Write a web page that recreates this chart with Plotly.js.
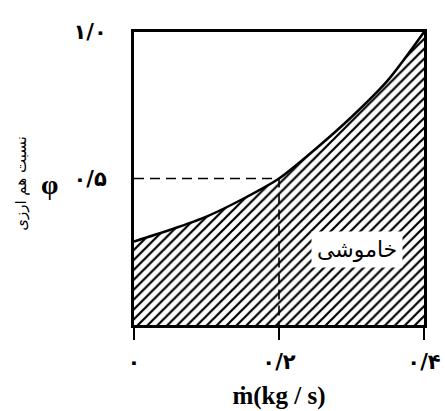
<!DOCTYPE html>
<html>
<head>
<meta charset="utf-8">
<script src="https://cdn.plot.ly/plotly-3.0.1.min.js"></script>
<style>html,body{margin:0;padding:0;background:#fff;}#chart{width:445px;height:411px;}</style>
</head>
<body>
<div id="chart"></div>
<script>
// Curve: equivalence ratio vs mass flow
const massFlow = [0, 0.05, 0.1, 0.15, 0.2, 0.25, 0.3, 0.35, 0.4];
const phiValues = [0.285, 0.325, 0.37, 0.43, 0.5, 0.60, 0.71, 0.835, 1.0];
// Marked point
const markX = 0.2;
const markY = 0.5;
// Tick labels
const xTickVals = [0, 0.2, 0.4];
const xTickText = ['۰', '۰/۲', '۰/۴'];
const yTickVals = [0.5, 1.0];
const yTickText = ['۰/۵', '۱/۰'];
// Region label
const regionLabel = 'خاموشی';
const regionX = 0.308;
const regionY = 0.256;
const yTitleSymbol = 'φ';
const yTitleText = 'نسبت هم ارزی';

const curve = {
  x: massFlow, y: phiValues, type: 'scatter', mode: 'lines',
  line: {color: '#000', width: 2.5, shape: 'spline', smoothing: 0.8},
  fill: 'tozeroy', fillcolor: 'rgba(255,255,255,1)',
  fillpattern: {shape: '/', size: 7, solidity: 0.32, fgcolor: '#000', bgcolor: '#fff'},
  hoverinfo: 'skip', showlegend: false
};
const dashed = {
  x: [0, markX, markX], y: [markY, markY, 0], type: 'scatter', mode: 'lines',
  line: {color: '#000', width: 1.6, dash: '10px,6px'},
  hoverinfo: 'skip', showlegend: false
};

const layout = {
  width: 445, height: 411,
  margin: {l: 134, r: 21, t: 32, b: 86},
  paper_bgcolor: '#fff', plot_bgcolor: '#fff',
  xaxis: {
    range: [0, 0.4], tickvals: xTickVals, ticktext: xTickText,
    ticks: 'outside', ticklen: 12, tickwidth: 2.5, tickcolor: '#000',
    showline: true, linewidth: 3, linecolor: '#000', mirror: true,
    showgrid: false, zeroline: false, ticklabelstandoff: 4,
    tickfont: {family: 'DejaVu Sans', size: 21, color: '#000', weight: 'bold'},
    title: {text: '<b>ṁ(kg / s)</b>', font: {family: 'Liberation Serif', size: 25, color: '#000'}, standoff: 14}
  },
  yaxis: {
    range: [0, 1.0], tickvals: yTickVals, ticktext: yTickText,
    ticks: '', showline: true, linewidth: 3, linecolor: '#000', mirror: true,
    showgrid: false, zeroline: false, ticklabelstandoff: 20,
    tickfont: {family: 'DejaVu Sans', size: 21, color: '#000', weight: 'bold'}
  },
  annotations: [
    {x: regionX, y: regionY, xref: 'x', yref: 'y', text: regionLabel, showarrow: false,
     font: {family: 'DejaVu Sans', size: 22, color: '#000'}, bgcolor: '#fff', borderpad: 5},
    {x: -0.293, y: 0.48, xref: 'paper', yref: 'paper', xanchor: 'center', yanchor: 'middle',
     text: yTitleSymbol, showarrow: false,
     font: {family: 'Liberation Serif', size: 28, color: '#000', weight: 'bold'}},
    {x: -0.39, y: 0.485, xref: 'paper', yref: 'paper', xanchor: 'center', yanchor: 'middle',
     text: yTitleText, showarrow: false, textangle: -90,
     font: {family: 'DejaVu Sans', size: 15, color: '#000'}}
  ]
};
Plotly.newPlot('chart', [curve, dashed], layout, {displayModeBar: false, staticPlot: true});
</script>
</body>
</html>
